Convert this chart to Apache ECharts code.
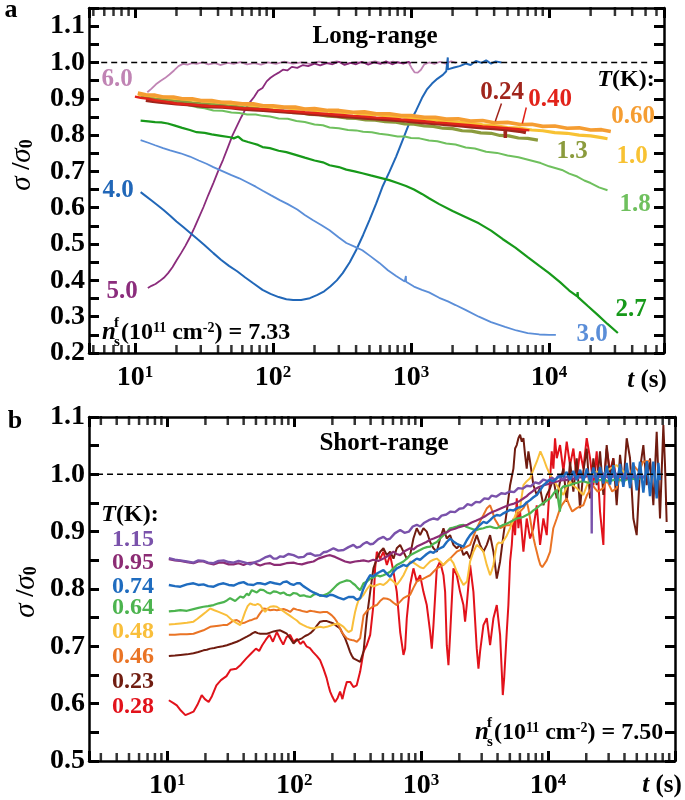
<!DOCTYPE html>
<html><head><meta charset="utf-8">
<script src="https://cdn.jsdelivr.net/npm/echarts@6/dist/echarts.min.js"></script>
<style>html,body{margin:0;padding:0;background:#fff}#c{width:685px;height:800px}</style>
</head><body><div id="c"></div>
<script>
// ---------------- Panel a (long-range) data: [t (s), sigma/sigma0] ----------------
const a_T60 = [[12.3,0.918],[13.2,0.928],[14.2,0.94],[15.3,0.949],[16.5,0.957],[17.8,0.967],[19.2,0.978],[20.7,0.99],[22.3,0.996],[24,0.994],[26,0.998],[28,0.996],[31,1.0],[34,0.995],[38,0.998],[42,0.993],[47,0.999],[52,0.996],[58,1.001],[65,0.995],[73,0.998],[82,0.994],[92,1.0],[105,0.996],[120,1.002],[140,0.997],[160,1.0],[185,0.996],[215,1.002],[250,0.998],[290,1.003],[340,0.997],[400,1.001],[470,0.998],[550,1.003],[640,0.997],[740,1.002],[850,0.998],[960,1.0],[1010,0.985],[1060,0.973],[1120,0.972],[1180,0.98],[1250,0.995],[1350,1.0],[1480,0.996],[1620,1.002],[1780,0.997],[1950,1.003],[2120,0.999]];
const a_T50 = [[12.4,0.379],[13.2,0.385],[14.1,0.39],[15.1,0.398],[16.2,0.407],[17.4,0.42],[18.7,0.436],[20.1,0.456],[21.6,0.475],[23.2,0.495],[25,0.518],[27,0.545],[29,0.572],[31.4,0.602],[34,0.635],[37,0.668],[40,0.7],[43.5,0.732],[47,0.765],[51,0.8],[55,0.826],[59,0.85],[63,0.87],[68,0.89],[73,0.905],[78,0.922],[84,0.93],[90,0.948],[96,0.958],[102,0.965],[110,0.972],[118,0.98],[127,0.978],[137,0.988],[150,0.985],[165,0.993],[180,0.99],[200,0.997],[220,0.992],[245,0.998],[270,0.995],[300,1.002],[330,0.993],[365,0.999],[400,0.995],[440,1.002],[490,0.994],[540,1.0],[600,0.996],[660,1.003],[730,0.995],[800,1.001],[880,0.997],[960,1.002],[1000,0.998]];
const a_T40 = [[11,0.643],[12,0.632],[13.2,0.62],[14.6,0.607],[16.2,0.593],[18,0.578],[20,0.562],[22.5,0.546],[25.3,0.53],[28.5,0.513],[32,0.497],[37,0.475],[42,0.457],[48,0.44],[55,0.425],[63,0.408],[72,0.392],[84,0.374],[96,0.363],[110,0.354],[125,0.348],[140,0.346],[160,0.346],[185,0.351],[210,0.36],[235,0.37],[260,0.383],[290,0.4],[320,0.42],[360,0.45],[400,0.483],[450,0.525],[500,0.566],[560,0.612],[620,0.657],[700,0.7],[780,0.741],[870,0.786],[970,0.832],[1090,0.868],[1200,0.902],[1300,0.925],[1420,0.942],[1550,0.955],[1700,0.966],[1800,0.976],[1845,0.98],[1847,1.014],[1850,0.981],[2050,0.986],[2250,0.99],[2490,0.997],[2700,0.993],[2950,1.004],[3250,0.999],[3500,1.006],[3800,0.997],[4100,1.003],[4520,1.0]];
const a_T30 = [[11,0.786],[12.5,0.779],[14,0.772],[16,0.764],[18,0.758],[21.4,0.75],[25,0.741],[29,0.73],[33,0.721],[37,0.712],[43,0.701],[50,0.69],[57,0.681],[65,0.67],[75,0.658],[85,0.646],[97,0.634],[112,0.621],[128,0.61],[150,0.595],[170,0.58],[194,0.566],[225,0.552],[257,0.538],[300,0.518],[340,0.503],[390,0.493],[444,0.483],[510,0.466],[590,0.448],[680,0.428],[780,0.412],[900,0.397],[915,0.397],[918,0.412],[921,0.396],[1050,0.383],[1200,0.374],[1350,0.367],[1600,0.352],[1850,0.342],[2100,0.332],[2500,0.318],[3100,0.3],[3800,0.285],[4800,0.272],[5800,0.262],[7000,0.255],[8500,0.251],[10000,0.25],[11200,0.25]];
const a_T27 = [[11,0.84],[12.5,0.838],[14,0.836],[15.5,0.835],[17.3,0.832],[19.5,0.826],[22,0.82],[25,0.814],[28,0.808],[32,0.806],[36,0.802],[42,0.798],[49,0.794],[52,0.791],[56,0.796],[60,0.786],[66,0.781],[72,0.777],[78,0.773],[84,0.767],[95,0.764],[110,0.757],[125,0.753],[148,0.745],[170,0.738],[200,0.73],[230,0.725],[257,0.717],[300,0.712],[340,0.705],[390,0.7],[444,0.695],[510,0.689],[590,0.683],[695,0.676],[800,0.668],[920,0.66],[1050,0.65],[1200,0.638],[1350,0.626],[1600,0.61],[2000,0.591],[2500,0.574],[3100,0.557],[3800,0.537],[4600,0.514],[5700,0.49],[7000,0.464],[8500,0.44],[10000,0.42],[12000,0.395],[14000,0.372],[16000,0.356],[16100,0.368],[16200,0.354],[19000,0.33],[22500,0.305],[26500,0.28],[31500,0.255]];
const a_T18 = [[11,0.904],[13,0.9],[15,0.897],[18,0.892],[21,0.887],[24,0.883],[28,0.877],[32,0.874],[37,0.868],[43,0.867],[50,0.862],[57,0.861],[65,0.857],[75,0.857],[84,0.853],[95,0.851],[110,0.846],[128,0.845],[148,0.839],[170,0.836],[200,0.829],[230,0.827],[257,0.821],[300,0.819],[350,0.814],[400,0.813],[450,0.809],[520,0.808],[590,0.804],[680,0.801],[800,0.796],[900,0.796],[1000,0.792],[1150,0.791],[1350,0.785],[1550,0.783],[1800,0.777],[2100,0.774],[2490,0.766],[2900,0.763],[3500,0.754],[4200,0.751],[5000,0.744],[6000,0.739],[7400,0.73],[8700,0.723],[10000,0.714],[12400,0.704],[14000,0.694],[16000,0.686],[18000,0.675],[20000,0.668],[23000,0.656],[26500,0.648]];
const a_T13 = [[11,0.905],[12.5,0.903],[14,0.9],[16,0.898],[18,0.896],[20,0.894],[23,0.892],[26,0.889],[30,0.887],[35,0.885],[40,0.883],[46,0.881],[53,0.879],[61,0.876],[70,0.875],[80,0.872],[92,0.87],[105,0.867],[120,0.866],[140,0.862],[160,0.861],[185,0.857],[215,0.856],[250,0.852],[290,0.851],[340,0.847],[400,0.846],[470,0.842],[550,0.841],[650,0.837],[760,0.836],[900,0.831],[1050,0.83],[1250,0.825],[1450,0.824],[1700,0.819],[2000,0.818],[2350,0.812],[2750,0.811],[3200,0.806],[3800,0.805],[4400,0.799],[5100,0.798],[6000,0.792],[7000,0.791],[8300,0.786]];
const a_T10 = [[10.5,0.913],[12,0.91],[14,0.907],[16,0.905],[19,0.902],[22,0.9],[26,0.897],[30,0.895],[36,0.892],[43,0.89],[50,0.887],[60,0.885],[72,0.882],[85,0.88],[100,0.877],[120,0.876],[145,0.872],[170,0.871],[200,0.868],[250,0.866],[300,0.863],[380,0.861],[460,0.858],[560,0.856],[700,0.852],[850,0.851],[1000,0.847],[1250,0.845],[1500,0.841],[1800,0.839],[2200,0.835],[2700,0.833],[3300,0.828],[4000,0.826],[5000,0.821],[6200,0.819],[7500,0.814],[9000,0.812],[11000,0.807],[13500,0.805],[16500,0.8],[20000,0.798],[24000,0.793],[26500,0.79]];
const a_T060 = [[10.5,0.916],[12,0.911],[14,0.91],[16,0.905],[19,0.905],[22,0.9],[26,0.9],[30,0.895],[36,0.895],[43,0.89],[50,0.89],[60,0.886],[72,0.886],[85,0.881],[100,0.881],[120,0.877],[145,0.877],[170,0.872],[200,0.873],[250,0.868],[300,0.868],[380,0.863],[460,0.864],[560,0.859],[700,0.859],[850,0.854],[1000,0.854],[1250,0.849],[1500,0.849],[1800,0.844],[2200,0.845],[2700,0.839],[3300,0.84],[4000,0.834],[5000,0.835],[6200,0.829],[7500,0.83],[9000,0.824],[11000,0.825],[13500,0.819],[16500,0.82],[20000,0.814],[24000,0.815],[28000,0.81]];
const a_T040 = [[10,0.906],[11,0.903],[12.5,0.9],[14,0.896],[16,0.893],[18,0.89],[20,0.887],[23,0.885],[26,0.884],[30,0.882],[34,0.88],[38,0.879],[43,0.878],[50,0.876],[60,0.874],[72,0.873],[85,0.871],[100,0.869],[120,0.867],[145,0.865],[170,0.863],[200,0.861],[250,0.858],[300,0.856],[380,0.853],[460,0.851],[560,0.848],[700,0.846],[850,0.843],[1000,0.841],[1250,0.838],[1500,0.835],[1800,0.833],[2200,0.83],[2700,0.827],[3300,0.824],[4000,0.822],[5000,0.819],[6000,0.816],[7200,0.813]];
const a_T024 = [[12,0.896],[13.5,0.893],[15,0.891],[17,0.889],[20,0.886],[24,0.884],[30,0.88],[36,0.878],[43,0.877],[50,0.875],[60,0.872],[72,0.87],[85,0.868],[100,0.866],[120,0.864],[145,0.862],[170,0.86],[200,0.857],[250,0.855],[300,0.852],[380,0.85],[460,0.847],[560,0.845],[700,0.842],[850,0.84],[1000,0.837],[1250,0.834],[1500,0.832],[1800,0.829],[2200,0.826],[2700,0.823],[3300,0.82],[4000,0.818],[4800,0.815],[4820,0.792],[4840,0.815],[5700,0.812],[6300,0.81],[6800,0.807]];
const a_ref = [[5.7,1.0],[54000,1.0]];

// ---------------- Panel b (short-range) data ----------------
const b_T115 = [[10.3,0.854],[11.5,0.851],[12.7,0.85],[14.3,0.848],[16.1,0.846],[17.6,0.85],[19.3,0.849],[21,0.846],[23.2,0.845],[25.4,0.849],[27.8,0.85],[30.5,0.847],[33.3,0.846],[36.5,0.849],[39.9,0.847],[42.4,0.845],[45,0.843],[49.3,0.847],[54,0.85],[59,0.855],[64.7,0.858],[68.8,0.853],[73,0.853],[77.6,0.857],[82.4,0.856],[90,0.861],[98.8,0.859],[108,0.855],[119,0.856],[126,0.861],[134,0.862],[146,0.858],[160,0.859],[170,0.864],[181,0.865],[192,0.868],[204,0.871],[223,0.867],[245,0.868],[268,0.873],[293,0.877],[312,0.872],[331,0.874],[352,0.879],[373,0.882],[397,0.878],[420,0.879],[460,0.887],[505,0.891],[540,0.886],[570,0.888],[620,0.897],[684,0.903],[740,0.898],[800,0.9],[860,0.909],[924,0.912],[985,0.909],[1050,0.915],[1150,0.92],[1256,0.923],[1350,0.921],[1450,0.928],[1580,0.93],[1707,0.935],[1850,0.934],[2000,0.94],[2150,0.941],[2320,0.948],[2500,0.946],[2700,0.952],[2900,0.951],[3150,0.958],[3400,0.957],[3600,0.963],[3900,0.961],[4280,0.967],[4600,0.966],[5000,0.97],[5400,0.969],[5820,0.976],[6300,0.975],[6800,0.98],[7300,0.979],[7900,0.986],[8500,0.984],[9200,0.991],[9900,0.988],[10740,0.994],[11400,0.99],[12000,0.997],[13000,0.991],[14000,0.996],[15000,0.993],[16000,1.0],[17000,0.993],[18000,0.999],[19000,0.994],[20000,1.001],[21400,0.995],[22000,0.999],[22080,0.897],[22150,0.998],[23000,0.995],[24000,1.002],[25500,0.995],[27000,1.002],[28500,0.995],[30000,1.003],[32000,0.995],[34000,1.002],[36000,0.994],[38000,1.003],[40500,0.995],[43000,1.002],[45500,0.994],[48000,1.001],[50500,0.994],[53000,1.0],[55500,0.994],[58000,0.998]];
const b_T095 = [[10.3,0.852],[11.5,0.85],[12.7,0.849],[14.3,0.847],[16.1,0.845],[17.6,0.848],[19.3,0.848],[21,0.845],[23.2,0.843],[25.4,0.846],[27.8,0.846],[30.5,0.843],[33.3,0.843],[36.5,0.845],[39.9,0.842],[43,0.845],[47.8,0.846],[51,0.843],[54,0.841],[59,0.844],[64.7,0.845],[70,0.842],[77.6,0.842],[87,0.845],[98.8,0.846],[106,0.844],[115,0.843],[128,0.846],[142,0.848],[155,0.853],[170,0.856],[181,0.858],[192,0.859],[210,0.856],[230,0.852],[252,0.848],[276,0.846],[302,0.848],[331,0.849],[352,0.85],[385,0.848],[420,0.851],[460,0.849],[505,0.853],[550,0.858],[606,0.865],[640,0.861],[684,0.859],[740,0.866],[819,0.871],[870,0.869],[924,0.874],[1010,0.878],[1100,0.882],[1180,0.886],[1256,0.888],[1380,0.892],[1500,0.897],[1600,0.899],[1707,0.903],[1850,0.905],[2000,0.908],[2150,0.91],[2320,0.912],[2500,0.916],[2700,0.919],[2900,0.922],[3150,0.926],[3400,0.931],[3600,0.934],[3900,0.937],[4280,0.941],[4600,0.944],[5000,0.947],[5400,0.949],[5820,0.952],[6300,0.957],[6800,0.962],[7100,0.966],[7500,0.97],[8000,0.975],[8500,0.978],[9300,0.981],[10380,0.984],[11000,0.986],[12000,0.988],[13000,0.99],[14000,0.99],[15200,0.993],[16500,0.992],[17800,0.995],[19000,0.994],[20500,0.997],[22000,0.995],[24000,0.998],[26000,0.996],[28000,0.997],[30000,0.994],[32500,0.997],[35000,0.995],[38500,0.996],[42000,0.993],[46000,0.996],[50000,0.994],[54000,0.995]];
const b_T074 = [[10.3,0.807],[11.5,0.805],[12.7,0.804],[14.3,0.808],[16.1,0.81],[17.6,0.807],[19.3,0.808],[21,0.805],[23.2,0.804],[25.4,0.808],[27.8,0.81],[30.5,0.807],[33.3,0.806],[36.5,0.81],[39.9,0.812],[43,0.808],[47.8,0.807],[51,0.81],[54,0.81],[59,0.808],[64.7,0.812],[70,0.81],[77.6,0.808],[82,0.812],[87.5,0.813],[93,0.809],[98.8,0.807],[105,0.81],[111,0.81],[118,0.805],[126,0.801],[134,0.797],[142,0.794],[151,0.791],[160,0.789],[170,0.788],[181,0.787],[192,0.79],[204,0.789],[223,0.785],[245,0.782],[268,0.786],[293,0.786],[312,0.781],[331,0.784],[352,0.801],[375,0.815],[397,0.824],[420,0.822],[448,0.827],[475,0.83],[505,0.833],[540,0.826],[570,0.821],[605,0.83],[643,0.836],[684,0.839],[726,0.842],[770,0.84],[819,0.845],[870,0.849],[924,0.853],[982,0.851],[1043,0.856],[1108,0.861],[1178,0.865],[1251,0.863],[1329,0.868],[1411,0.871],[1500,0.874],[1593,0.882],[1692,0.888],[1797,0.883],[1910,0.879],[2028,0.876],[2155,0.874],[2288,0.885],[2432,0.894],[2583,0.9],[2744,0.906],[2915,0.912],[3097,0.917],[3290,0.915],[3495,0.92],[3712,0.926],[3945,0.929],[4190,0.928],[4450,0.932],[4728,0.935],[5023,0.938],[5336,0.937],[5668,0.941],[6021,0.943],[6397,0.945],[6792,0.951],[7218,0.955],[7665,0.96],[8147,0.964],[8650,0.972],[9190,0.981],[9761,0.986],[10380,0.99],[11015,0.988],[11705,0.993],[12430,0.997],[13210,0.996],[14000,1.004],[14900,0.99],[15800,1.006],[16820,0.99],[17900,1.008],[18970,0.988],[20200,1.01],[21420,0.987],[22800,1.012],[24170,0.985],[25700,1.013],[27280,0.984],[29000,1.015],[30780,0.982],[32700,1.016],[34720,0.98],[36900,1.018],[39190,0.978],[41600,1.02],[44230,0.976],[47000,1.021],[49920,0.972],[53000,1.022],[56330,0.968],[60000,1.023],[63560,0.962],[67500,1.022],[71740,0.958],[74000,1.02],[76200,0.99]];
const b_T064 = [[10.3,0.761],[11.5,0.762],[12.7,0.763],[14.3,0.762],[16.1,0.765],[17.6,0.767],[19.3,0.769],[21,0.77],[23.2,0.772],[25.4,0.775],[27.8,0.777],[29.5,0.78],[31.3,0.784],[34.3,0.779],[37.6,0.787],[39.9,0.785],[42.4,0.792],[44,0.789],[46.4,0.798],[50.8,0.794],[54,0.799],[57.4,0.798],[61,0.794],[64.7,0.792],[68.8,0.796],[73,0.795],[77.6,0.792],[82.4,0.794],[87.5,0.79],[93,0.789],[98.8,0.793],[105,0.792],[111,0.788],[119,0.789],[126,0.787],[134,0.786],[142,0.79],[151,0.792],[160,0.788],[170,0.789],[181,0.791],[192,0.795],[204,0.801],[217,0.807],[230,0.811],[245,0.813],[260,0.815],[276,0.814],[289,0.81],[302,0.807],[316,0.802],[331,0.798],[352,0.81],[375,0.813],[397,0.818],[420,0.82],[448,0.824],[475,0.822],[505,0.824],[540,0.827],[570,0.83],[605,0.836],[643,0.842],[684,0.845],[726,0.848],[770,0.853],[819,0.859],[870,0.862],[924,0.865],[982,0.868],[1043,0.871],[1108,0.873],[1178,0.874],[1251,0.879],[1329,0.882],[1411,0.888],[1500,0.894],[1593,0.899],[1692,0.906],[1797,0.907],[1910,0.909],[2028,0.911],[2155,0.912],[2288,0.908],[2432,0.906],[2583,0.904],[2744,0.903],[2915,0.905],[3097,0.906],[3290,0.908],[3495,0.909],[3712,0.907],[3945,0.906],[4190,0.909],[4450,0.912],[4728,0.914],[5023,0.917],[5336,0.92],[5668,0.923],[6021,0.924],[6397,0.926],[6792,0.929],[7218,0.932],[7665,0.937],[8147,0.941],[8650,0.946],[9190,0.95],[9761,0.954],[10380,0.958],[11015,0.966],[11705,0.973],[12100,0.975],[12400,0.935],[12700,0.975],[13210,0.979],[14028,0.98],[14900,0.981],[15830,0.984],[16820,0.985],[17865,0.987],[18970,0.988],[20160,0.986],[21420,0.985],[22750,0.987],[24170,0.988],[25670,0.99],[27280,0.991],[28970,0.989],[30780,0.988],[32690,0.99],[34720,0.991],[36900,0.99],[39190,0.988],[41640,0.991],[44230,0.993],[46990,0.992],[49920,0.991],[53030,0.993],[56330,0.994]];
const b_T048 = [[10.3,0.738],[11.5,0.739],[12.7,0.74],[14.3,0.741],[16.1,0.743],[17.3,0.748],[18.7,0.754],[20.2,0.76],[21.8,0.766],[23.5,0.763],[25.4,0.76],[27.4,0.757],[29.5,0.754],[32.3,0.746],[35,0.741],[37.6,0.737],[39.3,0.748],[41.1,0.76],[43,0.77],[45,0.775],[47.1,0.773],[49.3,0.772],[51.6,0.774],[54,0.772],[56.5,0.765],[59.1,0.76],[61.8,0.766],[64.7,0.769],[68.8,0.77],[73,0.769],[76.5,0.766],[80,0.763],[87.5,0.757],[93,0.753],[98.8,0.749],[105,0.745],[111,0.74],[118,0.737],[126,0.734],[134,0.732],[142,0.731],[151,0.733],[160,0.734],[170,0.733],[181,0.734],[192,0.736],[204,0.738],[213,0.739],[223,0.74],[234,0.737],[245,0.734],[256,0.729],[268,0.725],[276,0.727],[284,0.728],[293,0.745],[302,0.76],[312,0.772],[321,0.78],[331,0.778],[352,0.79],[375,0.8],[397,0.807],[420,0.804],[448,0.807],[475,0.809],[505,0.807],[540,0.812],[570,0.818],[605,0.813],[643,0.807],[684,0.815],[726,0.824],[770,0.836],[819,0.848],[870,0.846],[924,0.842],[982,0.838],[1043,0.836],[1108,0.842],[1178,0.848],[1251,0.851],[1329,0.853],[1411,0.848],[1500,0.842],[1593,0.848],[1692,0.853],[1797,0.845],[1910,0.83],[2028,0.818],[2155,0.807],[2300,0.813],[2432,0.848],[2583,0.865],[2744,0.877],[2915,0.872],[3097,0.865],[3290,0.842],[3495,0.824],[3600,0.832],[3712,0.842],[3830,0.862],[3945,0.877],[4070,0.881],[4200,0.883],[4330,0.88],[4450,0.877],[4728,0.893],[5023,0.906],[5336,0.92],[5668,0.935],[6000,0.94],[6397,0.981],[6792,0.988],[7218,0.993],[7665,1.008],[8147,1.022],[8700,1.04],[9190,1.028],[9761,1.012],[10380,0.999],[11015,0.99],[11705,0.981],[12430,0.972],[13210,0.964],[14028,0.978],[14900,0.987],[15830,0.98],[16820,0.976],[17865,0.97],[18970,0.964],[20160,0.98],[21420,0.993],[22750,1.0],[24170,1.005],[25670,1.002],[27280,0.999],[28970,1.006],[30780,1.01],[32690,1.013],[34720,1.016],[36900,1.01],[39190,1.005],[41640,0.997],[44230,0.99]];
const b_T046 = [[10.3,0.72],[11.5,0.72],[12.7,0.721],[14.3,0.721],[16.1,0.722],[17.6,0.725],[19.3,0.728],[20.5,0.731],[21.8,0.734],[23.5,0.735],[25.4,0.736],[27.4,0.737],[29.5,0.737],[31,0.74],[32.3,0.743],[33.8,0.745],[35.3,0.746],[37,0.743],[38.7,0.74],[40.5,0.741],[42.4,0.743],[44.3,0.745],[46.4,0.746],[48.5,0.748],[50.8,0.749],[52.5,0.754],[54,0.758],[55.7,0.762],[57.4,0.766],[61,0.765],[64.7,0.763],[68.8,0.764],[73,0.763],[77.6,0.764],[82.4,0.765],[87.5,0.763],[93,0.76],[98.8,0.766],[105,0.764],[111,0.763],[118,0.761],[126,0.76],[134,0.762],[142,0.761],[151,0.76],[160,0.759],[170,0.76],[181,0.76],[190,0.757],[198,0.754],[208,0.749],[217,0.743],[227,0.734],[237,0.725],[248,0.719],[260,0.714],[272,0.712],[284,0.711],[298,0.71],[312,0.708],[321,0.711],[331,0.714],[352,0.754],[375,0.762],[397,0.766],[420,0.77],[448,0.772],[475,0.779],[505,0.784],[540,0.783],[570,0.781],[605,0.776],[643,0.772],[684,0.778],[726,0.784],[770,0.787],[819,0.79],[870,0.802],[924,0.813],[982,0.816],[1043,0.818],[1108,0.821],[1178,0.824],[1251,0.83],[1329,0.836],[1411,0.839],[1500,0.842],[1593,0.848],[1692,0.853],[1797,0.859],[1910,0.865],[2028,0.868],[2155,0.871],[2288,0.874],[2432,0.877],[2583,0.892],[2744,0.906],[2915,0.918],[3097,0.929],[3300,0.941],[3495,0.946],[3650,0.935],[3800,0.922],[4000,0.914],[4200,0.906],[4450,0.909],[4700,0.911],[5023,0.911],[5336,0.92],[5668,0.929],[6021,0.935],[6397,0.941],[6800,0.952],[7000,0.94],[7218,0.923],[7450,0.905],[7700,0.888],[7920,0.876],[8147,0.865],[8400,0.853],[8700,0.842],[9000,0.838],[9190,0.836],[9761,0.85],[10380,0.865],[11000,0.906],[11705,0.923],[12200,0.935],[12800,0.946],[13400,0.952],[14030,0.958],[14700,0.946],[15500,0.935],[16100,0.938],[16820,0.941],[17800,0.944],[18970,0.946],[19600,0.955],[20300,0.964],[21400,0.972],[22500,0.981],[23500,0.975],[24600,0.97],[25900,0.973],[27280,0.976],[28100,0.983],[29000,0.99],[30500,0.98],[32000,0.97],[33300,0.973],[34720,0.976],[36000,0.988],[37000,0.999],[38500,1.002],[40000,1.005],[42000,1.002],[44000,0.999],[45500,1.008],[47000,1.016],[49500,1.01],[52000,1.005],[54000,1.013],[56000,1.022],[59800,1.023],[63560,1.023]];
const b_T023 = [[10.3,0.683],[11.5,0.684],[12.7,0.685],[14.3,0.686],[16.1,0.688],[17.6,0.69],[19.3,0.693],[20.5,0.694],[21.8,0.696],[23.5,0.697],[25.4,0.699],[27.4,0.7],[29.5,0.702],[32.3,0.705],[35.3,0.708],[37.6,0.711],[39.9,0.714],[42.4,0.717],[45,0.72],[47.1,0.723],[49.3,0.725],[51.6,0.723],[54,0.722],[57.4,0.722],[61,0.722],[64.7,0.724],[68.8,0.726],[73,0.727],[77.6,0.728],[82.4,0.725],[87.5,0.722],[93,0.714],[98.8,0.705],[102,0.708],[105,0.711],[110,0.712],[115,0.714],[122,0.718],[130,0.721],[136,0.724],[142,0.728],[151,0.736],[160,0.743],[170,0.744],[181,0.744],[192,0.742],[204,0.74],[217,0.735],[230,0.731],[241,0.722],[252,0.714],[264,0.702],[276,0.69],[284,0.684],[293,0.679],[312,0.676],[331,0.673],[352,0.691],[373,0.749],[397,0.795],[421,0.836],[448,0.853],[476,0.865],[505,0.871],[537,0.859],[570,0.865],[606,0.853],[643,0.871],[684,0.877],[726,0.865],[771,0.853],[819,0.859],[870,0.888],[924,0.906],[982,0.894],[1043,0.906],[1108,0.9],[1178,0.882],[1251,0.871],[1329,0.865],[1411,0.888],[1500,0.906],[1593,0.888],[1692,0.894],[1797,0.877],[1910,0.871],[2028,0.877],[2155,0.859],[2288,0.865],[2432,0.853],[2583,0.877],[2744,0.894],[2915,0.877],[3097,0.865],[3290,0.877],[3495,0.894],[3712,0.865],[3945,0.818],[4190,0.848],[4450,0.894],[4728,0.935],[5023,0.981],[5336,1.01],[5500,1.045],[5668,1.051],[5840,1.063],[6021,1.069],[6210,1.057],[6397,1.063],[6590,1.034],[6792,1.01],[7000,1.04],[7218,1.022],[7665,0.981],[8147,0.964],[8650,0.976],[9190,0.946],[9761,0.964],[10380,0.976],[11015,0.993],[11705,0.958],[12430,0.987],[13210,1.01],[14028,0.952],[14900,1.022],[15830,0.97],[16820,1.028],[17865,0.941],[18970,1.005],[20160,1.045],[21420,0.958],[22750,1.028],[24170,0.981],[25670,1.04],[27280,0.964],[28970,1.051],[30780,0.993],[32690,1.028],[34720,0.946],[36900,1.034],[39190,0.981],[41640,1.063],[44230,1.028],[46990,0.923],[49920,0.894],[53030,1.01],[56330,1.051],[59840,0.981],[63560,1.028],[67530,0.946],[71740,1.074],[76210,0.923],[80960,1.086],[83440,1.016],[85950,0.917]];
const b_T028 = [[10.3,0.606],[11.2,0.601],[11.9,0.597],[12.8,0.588],[13.9,0.58],[15,0.583],[16.1,0.586],[17.3,0.598],[18.7,0.615],[19.8,0.608],[21.2,0.603],[22.5,0.613],[24.4,0.632],[26.5,0.641],[29.3,0.648],[31.5,0.659],[35,0.661],[38,0.668],[42,0.679],[46,0.688],[50,0.696],[53,0.692],[56,0.702],[60,0.712],[64,0.72],[68,0.708],[73,0.725],[78,0.712],[82,0.703],[87,0.716],[93,0.72],[99,0.708],[105,0.713],[112,0.704],[118,0.709],[125,0.7],[133,0.697],[141,0.69],[151,0.683],[160,0.676],[170,0.661],[180,0.645],[186,0.632],[192,0.621],[200,0.612],[210,0.603],[220,0.61],[230,0.621],[240,0.608],[250,0.625],[260,0.638],[276,0.638],[293,0.629],[311,0.632],[331,0.656],[352,0.691],[373,0.702],[397,0.72],[421,0.772],[434,0.836],[448,0.865],[462,0.868],[476,0.853],[505,0.865],[537,0.842],[570,0.859],[606,0.83],[643,0.795],[684,0.725],[726,0.685],[748,0.696],[771,0.749],[819,0.807],[870,0.836],[924,0.813],[982,0.824],[1043,0.795],[1108,0.772],[1178,0.725],[1214,0.696],[1251,0.737],[1329,0.836],[1411,0.848],[1500,0.824],[1546,0.795],[1593,0.702],[1642,0.667],[1692,0.72],[1797,0.836],[1910,0.824],[2028,0.795],[2155,0.772],[2220,0.743],[2288,0.772],[2432,0.842],[2583,0.795],[2744,0.696],[2830,0.661],[2915,0.691],[3097,0.737],[3290,0.749],[3495,0.702],[3712,0.749],[3945,0.772],[4190,0.72],[4320,0.656],[4400,0.615],[4510,0.644],[4728,0.725],[4870,0.772],[5023,0.848],[5180,0.877],[5336,0.923],[5500,0.894],[5668,0.958],[5840,0.906],[6021,0.935],[6397,0.865],[6792,0.923],[7218,0.888],[7665,0.906],[8147,0.946],[8650,0.877],[9190,0.923],[9761,0.894],[10380,0.993],[10690,1.04],[11015,1.01],[11350,1.063],[11705,1.028],[12430,1.051],[13210,1.005],[14028,1.057],[14900,1.016],[15830,1.045],[16820,0.993],[17865,1.04],[18970,1.01],[20160,1.063],[21420,1.028],[22750,0.981],[24170,1.04],[25670,0.935],[27280,0.877],[28120,1.01],[28970,1.045],[30780,1.005],[32690,1.028],[34720,0.981]];
const b_ref = [[2.8,1.0],[91000,1.0]];

// ---------------- axes / ticks ----------------
const xMajorA = [10, 100, 1000, 10000];
const xMajorB = [10, 100, 1000, 10000];
const yLabelsA = ['0.2','0.3','0.4','0.5','0.6','0.7','0.8','0.9','1.0','1.1'];
const yLabelsB = ['0.5','0.6','0.7','0.8','0.9','1.0','1.1'];
const labelsA = ['6.0','5.0','4.0','3.0','2.7','1.8','1.3','1.0','0.60','0.40','0.24'];
const labelsB = ['1.15','0.95','0.74','0.64','0.48','0.46','0.23','0.28'];

const FONT = '"Liberation Serif","Times New Roman",serif';
const colA = {'6.0':'#c084b4','5.0':'#8b2c7c','4.0':'#2167b8','3.0':'#5b8ed8','2.7':'#17991a','1.8':'#6fc05e','1.3':'#8b9b3d','1.0':'#f8c233','0.60':'#f59d32','0.40':'#e2231a','0.24':'#a0251c'};
const colB = {'1.15':'#7a52ab','0.95':'#8c2c74','0.74':'#1f6cbf','0.64':'#4cb44f','0.48':'#f9bf3b','0.46':'#ea7425','0.23':'#701c10','0.28':'#e2121b'};

const XA = [4.65, 68000], YA = [0.2, 1.15];
const XB = [2.42, 100000], YB = [0.5, 1.1];
const GA = {left: 89, top: 8, width: 575, height: 345};
const GB = {left: 89, top: 417, width: 586, height: 346};

function minorTicks(r) {
  const out = [];
  for (let e = -1; e <= 6; e++) for (let k = 2; k <= 9; k++) {
    const v = k * Math.pow(10, e);
    if (v > r[0] * 1.001 && v < r[1] * 0.999) out.push(v);
  }
  return out;
}
function isPow10(v, list) { return list.some(p => Math.abs(v / p - 1) < 1e-6); }

function xAx(grid, r, pos, show, majors) {
  return {
    type: 'log', logBase: 10, gridIndex: grid, min: r[0], max: r[1], position: pos,
    axisLine: {show: true, onZero: false, lineStyle: {color: '#000', width: 2.5}},
    axisTick: {show: true, inside: true, length: 10, lineStyle: {color: '#000', width: 3}},
    minorTick: {show: false}, splitLine: {show: false},
    axisLabel: {
      show: show, margin: 11, color: '#000', fontSize: 28, fontWeight: 'bold', fontFamily: FONT,
      formatter: v => isPow10(v, majors) ? '10{sup|' + Math.round(Math.log10(v)) + '}' : '',
      rich: {sup: {fontSize: 17, fontWeight: 'bold', fontFamily: FONT, color: '#000', verticalAlign: 'top'}}
    }
  };
}
function yAx(grid, r, pos, show, labels) {
  return {
    type: 'value', gridIndex: grid, min: r[0], max: r[1], interval: 0.05, position: pos,
    axisLine: {show: true, onZero: false, lineStyle: {color: '#000', width: 2.5}},
    axisTick: {show: true, inside: true, length: 10, lineStyle: {color: '#000', width: 3}},
    splitLine: {show: false},
    axisLabel: {
      show: show, margin: 4, color: '#000', fontSize: 28, fontWeight: 'bold', fontFamily: FONT,
      formatter: v => { const s = v.toFixed(2); return (s.endsWith('0') && labels.includes(v.toFixed(1))) ? v.toFixed(1) : ''; }
    }
  };
}
function ln(data, color, width, gi, z) {
  return {type: 'line', data: data, xAxisIndex: gi * 2, yAxisIndex: gi * 2, showSymbol: false, symbol: 'none',
    lineStyle: {color: color, width: width}, itemStyle: {color: color}, animation: false, silent: true, z: z || 2};
}
// minor ticks (2..9 x 10^n) on bottom and top frame edges, drawn as small rect symbols pointing inward
function minorSeries(gi, r, yr, top) {
  return {
    type: 'scatter', xAxisIndex: gi * 2, yAxisIndex: gi * 2, silent: true, clip: false, z: 20, animation: false,
    symbol: 'rect', symbolSize: [2.5, 9], symbolOffset: [0, top ? 3.5 : -3.5], itemStyle: {color: '#000'},
    data: minorTicks(r).map(t => [t, top ? yr[1] : yr[0]])
  };
}
function txt(x, y, text, color, size, opt) {
  opt = opt || {};
  const f = (opt.italic ? 'italic ' : '') + 'bold ' + size + 'px ' + FONT;
  return {type: 'text', x: x, y: y, rotation: opt.rot || 0, silent: true, z: 100,
    style: {text: text, fill: color, font: f, align: opt.align || 'center', verticalAlign: 'middle',
      textAlign: opt.align || 'center', textVerticalAlign: 'middle', rich: opt.rich}};
}
const R = (size) => ({
  it: {fontStyle: 'italic', fontWeight: 'bold', fontSize: size, fontFamily: FONT, color: '#000'},
  sup: {fontSize: Math.round(size * 0.6), fontWeight: 'bold', fontFamily: FONT, color: '#000', verticalAlign: 'top'},
  sub: {fontSize: Math.round(size * 0.6), fontWeight: 'bold', fontFamily: FONT, color: '#000', verticalAlign: 'bottom'}
});

const dash = (data, gi) => ({type: 'line', data: data, xAxisIndex: gi * 2, yAxisIndex: gi * 2, showSymbol: false, symbol: 'none',
  lineStyle: {color: '#000', width: 1.5, type: [6, 4]}, animation: false, silent: true, z: 15});

const arrow = (from, to, color) => ({
  silent: true, symbol: ['none', 'arrow'], symbolSize: [0, 8], animation: false,
  lineStyle: {color: color, width: 1.5, type: 'solid'}, label: {show: false},
  data: [[{coord: from}, {coord: to}]]
});

const series = [
  ln(a_T60, colA['6.0'], 1.8, 0),
  ln(a_T50, colA['5.0'], 1.8, 0),
  ln(a_T40, colA['4.0'], 2, 0),
  ln(a_T30, colA['3.0'], 1.8, 0),
  ln(a_T27, colA['2.7'], 2.2, 0),
  ln(a_T18, colA['1.8'], 2, 0),
  ln(a_T13, colA['1.3'], 3.2, 0),
  ln(a_T10, colA['1.0'], 3.2, 0),
  ln(a_T060, colA['0.60'], 3.6, 0),
  Object.assign(ln(a_T024, colA['0.24'], 3.4, 0), {markLine: arrow([4520, 0.887], [4080, 0.838], colA['0.24'])}),
  Object.assign(ln(a_T040, colA['0.40'], 2.4, 0), {markLine: arrow([6840, 0.876], [6400, 0.832], colA['0.40'])}),
  dash(a_ref, 0),
  minorSeries(0, XA, YA, false),
  minorSeries(0, XA, YA, true),
  ln(b_T028, colB['0.28'], 2, 1),
  ln(b_T023, colB['0.23'], 2, 1),
  ln(b_T046, colB['0.46'], 2, 1),
  ln(b_T048, colB['0.48'], 2, 1),
  ln(b_T064, colB['0.64'], 2.2, 1),
  ln(b_T095, colB['0.95'], 2.2, 1),
  ln(b_T115, colB['1.15'], 2.4, 1),
  ln(b_T074, colB['0.74'], 2.4, 1),
  dash(b_ref, 1),
  minorSeries(1, XB, YB, false),
  minorSeries(1, XB, YB, true)
];

const sigRich = {
  g: {fontStyle: 'italic', fontSize: 29, fontFamily: FONT, color: '#000'},
  s: {fontSize: 18, fontWeight: 'bold', fontFamily: FONT, color: '#000', verticalAlign: 'bottom'}
};
const graphics = [
  txt(11, 10, 'a', '#000', 26),
  txt(15, 421, 'b', '#000', 26),
  txt(22, 165, '{g|σ} /{g|σ}{s|0}', '#000', 26, {rot: Math.PI / 2, rich: sigRich}),
  txt(26, 592, '{g|σ} /{g|σ}{s|0}', '#000', 26, {rot: Math.PI / 2, rich: sigRich}),
  txt(375, 37, 'Long-range', '#000', 25),
  txt(384, 444, 'Short-range', '#000', 25),
  // panel a labels
  txt(117, 80, labelsA[0], colA['6.0'], 25),
  txt(122, 292, labelsA[1], colA['5.0'], 25),
  txt(118, 191, labelsA[2], colA['4.0'], 25),
  txt(592, 335, labelsA[3], colA['3.0'], 25),
  txt(631, 310, labelsA[4], colA['2.7'], 25),
  txt(635, 205, labelsA[5], colA['1.8'], 25),
  txt(572, 152, labelsA[6], colA['1.3'], 25),
  txt(632, 157, labelsA[7], colA['1.0'], 25),
  txt(633, 117, labelsA[8], colA['0.60'], 25),
  txt(550, 100, labelsA[9], colA['0.40'], 25),
  txt(502, 93, labelsA[10], colA['0.24'], 25),
  txt(626, 80, '{it|T}(K):', '#000', 24, {rich: R(24)}),
  // panel a n_s label
  txt(102, 333, 'n', '#000', 25, {italic: true, align: 'left'}),
  txt(114, 323, 'f', '#000', 15, {align: 'left'}),
  txt(114, 342, 's', '#000', 15, {align: 'left'}),
  txt(121, 333, '(10{sup|11} cm{sup|-2}) = 7.33', '#000', 24, {align: 'left', rich: R(24)}),
  txt(647, 381, '{it|t} (s)', '#000', 25, {rich: R(25)}),
  // panel b labels
  txt(130, 515, '{it|T}(K):', '#000', 24, {rich: R(24)}),
  txt(133, 540, labelsB[0], colB['1.15'], 24),
  txt(133, 563, labelsB[1], colB['0.95'], 24),
  txt(133, 587, labelsB[2], colB['0.74'], 24),
  txt(133, 608, labelsB[3], colB['0.64'], 24),
  txt(133, 632, labelsB[4], colB['0.48'], 24),
  txt(133, 657, labelsB[5], colB['0.46'], 24),
  txt(133, 682, labelsB[6], colB['0.23'], 24),
  txt(133, 707, labelsB[7], colB['0.28'], 24),
  txt(475, 733, 'n', '#000', 25, {italic: true, align: 'left'}),
  txt(487, 723, 'f', '#000', 15, {align: 'left'}),
  txt(487, 742, 's', '#000', 15, {align: 'left'}),
  txt(494, 733, '(10{sup|11} cm{sup|-2}) = 7.50', '#000', 24, {align: 'left', rich: R(24)}),
  txt(662, 786, '{it|t} (s)', '#000', 25, {rich: R(25)})
];

const chart = echarts.init(document.getElementById('c'));
chart.setOption({
  animation: false,
  backgroundColor: '#fff',
  grid: [GA, GB],
  xAxis: [xAx(0, XA, 'bottom', true, xMajorA), xAx(0, XA, 'top', false, xMajorA),
          xAx(1, XB, 'bottom', true, xMajorB), xAx(1, XB, 'top', false, xMajorB)],
  yAxis: [yAx(0, YA, 'left', true, yLabelsA), yAx(0, YA, 'right', false, yLabelsA),
          yAx(1, YB, 'left', true, yLabelsB), yAx(1, YB, 'right', false, yLabelsB)],
  series: series,
  graphic: graphics
});
</script></body></html>
